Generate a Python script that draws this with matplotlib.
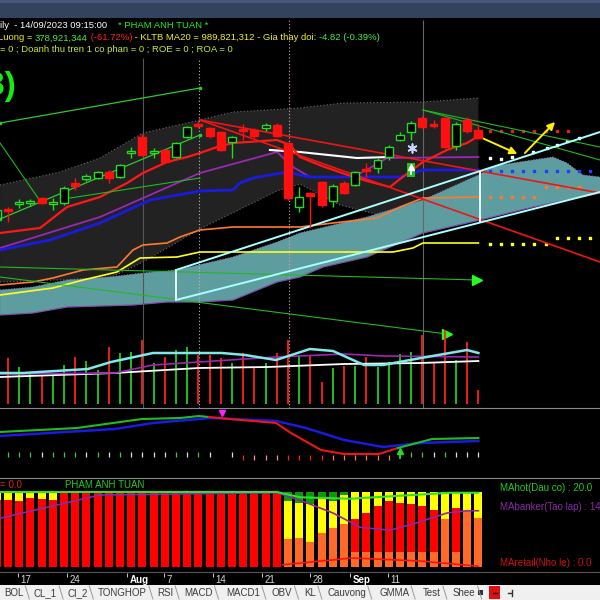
import numpy as np
import matplotlib
matplotlib.use("Agg")
import matplotlib.pyplot as plt
from matplotlib.lines import Line2D

plt.rcParams['font.family'] = ['Liberation Sans', 'DejaVu Sans']

W, H = 600, 600
XLIM = (0.286, 53.86)   # bar index range shown (bar 0 = 13/07, partly off screen)

# ---------------- price candles ----------------
op = [1147,1156,1161,1162,1167,1161,1162,1182,1186,1187,1193,1188,1212,1228,1212,1215,1208,1228,1241,1237,1233,1223,
      1236,1235,1237,1240,1222,1158,1172,1183,1164,1182,1180,1196,1197,1208,1225,1233,1247,1241,1247,1219,1245,1235]
cl = [1155,1154,1163,1164,1162,1163,1177,1179,1189,1193,1187,1200,1214,1210,1214,1203,1222,1238,1239,1229,1215,1228,
      1234,1229,1240,1229,1167,1168,1169,1160,1179,1172,1193,1194,1205,1218,1230,1242,1238,1239,1218,1241,1234,1227]
hi = [1156,1158,1166,1166,1168,1167,1179,1187,1191,1194,1195,1201,1218,1231,1217,1216,1223,1239,1244,1238,1234,1229,
      1241,1237,1242,1242,1223,1178,1173,1184,1181,1184,1194,1202,1207,1220,1233,1244,1249,1245,1248,1243,1248,1241]
lo = [1146,1143,1157,1159,1161,1155,1160,1175,1184,1186,1182,1187,1207,1209,1207,1202,1207,1227,1237,1227,1214,1207,
      1225,1227,1234,1228,1165,1153,1137,1158,1158,1171,1179,1188,1192,1205,1224,1225,1237,1237,1217,1215,1232,1226]
vol = [1100,1242,999,837,783,783,1053,1269,1161,918,1539,1377,1404,1728,1107,1269,1458,1539,1323,1323,1242,1107,
       1377,972,1107,1377,1728,1323,1323,594,972,1026,1026,1269,999,1134,1350,1404,1863,1134,1998,1188,1674,378]

# ---------------- indicator lines (bar index, value) ----------------
red_ma_x = [0.29,3.86,6.27,9.21,11.63,13.05,15.2,17.0,18.14,19.66,21.09,25.02,26.18,27.07,29.04,31.09,33.05,35.11,36.0,38.05,40.2,41.98,43]
red_ma = [1132,1137,1158,1168,1182,1192,1203,1208,1212,1218,1222,1225,1220,1208,1199,1191,1184,1178,1186,1203,1215,1222,1229]
purple_x = [0.29,9.21,18.14,25.02,26.45,27.96,31.8,33.32,34.84,43]
purple = [1117,1148,1192,1213,1198,1188,1188,1197,1207,1208]
blue_x = [0.29,4.75,9.21,13.68,18.14,21.09,21.71,22.88,25.91,27.07,27.96,31.8,36.0,38.05,43]
blue = [1115,1125,1142,1165,1174,1175,1182,1187,1193,1190,1188,1188,1188,1195,1195]
white_x = [24.39,27.07,32.16,35.11]
white = [1215,1213,1207,1208]
orange_x = [0.29,3.23,5.0,7.7,10.73,12.16,13.05,15.2,16.36,18.14,21.09,27.07,30.02,33.95,36.0,38.05,43]
orange = [1080,1083,1087,1095,1098,1115,1120,1122,1128,1135,1138,1138,1142,1147,1158,1167,1168]
yellow_x = [0.29,5.0,7.7,10.73,12.79,16.09,18.14,27.07,35.38,37.16,38.05,43]
yellow = [1070,1077,1085,1093,1107,1108,1113,1113,1113,1117,1122,1122]

band_up_x = [0.29,5.64,9.21,13.05,18.14,21.09,27.07,30.91,38.05,43]
band_up = [1180,1193,1207,1232,1245,1253,1257,1262,1263,1267]
band_lo_x = [0.29,10.1,13.05,18.14,25.02,27.07,30.64,34.2,43]
band_lo = [1083,1087,1103,1136,1174,1181,1160,1150,1165]

cloud_up_x = [0.29,3.23,6.27,10.1,13.05,16.09,21.09,25.02,27.07,33.05,38.05,43,43.77,44.93,49.66,50.91,52.34,53.86]
cloud_up = [1075,1078,1085,1088,1092,1095,1108,1123,1132,1148,1165,1190,1195,1200,1208,1202,1190,1188]
cloud_lo_x = [0.29,3.23,6.27,12.16,15.2,18.14,21.09,25.02,27.07,29.13,33.05,38.05,43.14,47.88,53.86]
cloud_lo = [1050,1052,1058,1060,1063,1063,1065,1083,1088,1098,1108,1132,1145,1158,1172]

# trend lines: (x0, y0, x1, y1)
cyan_lines = [(16.0, 1095, 53.86, 1233), (16.0, 1065, 53.86, 1173)]
white_bars = [(16.0, 1065, 1095), (43.14, 1143, 1194)]
red_lines = [(18.14, 1245, 53.86, 1172), (18.14, 1245, 53.86, 1103)]
green_lines = [(0.29, 1222, 3.68, 1167), (6.54, 1167, 18.14, 1187),
               (38.05, 1255, 53.86, 1218), (38.05, 1255, 53.86, 1205)]
green_dotted = [(0.29, 1242, 18.14, 1277), (0.29, 1146, 18.14, 1230)]
green_arrows = [(0.29, 1098, 42.9, 1085), (0.29, 1088, 40.2, 1031)]
yellow_arrows = [(43.14, 1228, 46.71, 1210), (46.98, 1210, 50.02, 1245)]

# projected dots to the right
red_dot_x = [44,45,46,47,48,49,50,51]
red_dot = [1234]*8
white_dot_x = [44,45,46,47.9,49.1,50,50.9,52]
white_dot = [1207,1206,1208,1213,1217,1220,1224,1227]
blue_dot_x = [44,45,46,47,48,49,50,51,52,53]
blue_dot = [1194]*10
orange_dot_x = [44,45,46,47,48,49,50,51,52]
orange_dot = [1168]*5 + [1178]*4
yellow_dot_x = [44,45,46,47,48,49,50,51,52,53]
yellow_dot = [1121]*6 + [1127]*4

vlines_x = [13.05, 18.05, 26.09, 38.05]

# ---------------- volume averages ----------------
vcyan_x = [0.29,2.34,8.14,10.2,13.95,20.1,22.16,24.93,27.96,30.02,32.79,34.48,37.875,41.98,43]
vcyan = [837,837,945,1134,1377,1377,1323,1188,1485,1431,1053,1053,1242,1458,1377]
vpurple_x = [0.29,10.55,13.95,18.05,24.93,31.0,34.48,43]
vpurple = [810,837,1053,1134,1269,1350,1296,1269]
vwhite_x = [0.29,10.55,18.05,24.21,31.0,37.875,43]
vwhite = [729,837,972,999,1080,1107,1161]

# ---------------- oscillator panel ----------------
osc_x = [0.29,7.16,12.96,16.36,18.05,18.95,20.82,24.93,26.27,28.95,31.0,34.13,35.82,38.86,43]
osc = [28,32,41,42,44,43,41,37,27,10,6,6,12,21,22]
sig_x = [0.29,10.55,13.95,19.04,24.93,27.61,31.0,34.48,37.875,43]
sig = [24,31,37,42,39,32,20,13,17,19]
tick_codes = "ggggwgggwgwgwwwwgwgwnwrppprrrroooooo" + "aggwgwww"

# ---------------- money flow panel (%) ----------------
st_green = [0]*26 + [12,14,16,8,12,4] + [0]*12
st_yellow = [10,10,12,8,9,10] + [0]*20 + [51,47,51,47,36,39,36,28,19,12,14,16,19,24,36,21,25,34]
st_red = [90,90,88,92,91,90] + [100]*20 + [0,0,0,0,0,0,44,52,61,68,66,64,61,56,0,59,0,0]
st_orange = [0]*26 + [37,39,33,45,52,57,20,20,20,20,20,20,20,20,64,20,75,66]
hot_x = [0.29,25.02,26.18,27.07,31.54,36.0,40.46,43]
hot = [100,100,96,93,91,95,99,99]
banker_x = [0.29,9.21,25.02,27.07,30.02,32.43,35.11,37.52,40.2,41.98,43]
banker = [65,96,99,89,72,53,49,59,72,75,75]
retail_x = [25.55,31.71,37.79,43]
retail = [3,12,8,1]

date_pos = [1.89, 6.27, 11.63, 14.93, 19.3, 23.68, 27.96, 31.54, 34.93]
date_lab = ['17', '24', 'Aug', '7', '14', '21', '28', 'Sep', '11']
tabs = ['BOL', 'CL_1', 'CI_2', 'TONGHOP', 'RSI', 'MACD', 'MACD1', 'OBV', 'KL', 'Cauvong', 'GMMA', 'Test', 'Shee']
tab_px = [4, 34, 67, 98, 157, 184, 226, 272, 304, 327, 379, 423, 453]

GREEN = '#22dd22'
RED = '#ff1010'


def rect(x0, y0, x1, y1):
    return [x0 / W, 1 - y1 / H, (x1 - x0) / W, (y1 - y0) / H]


def hline(y, color='#8a8a8a'):
    fig.add_artist(Line2D([0, 1], [1 - y / H, 1 - y / H], color=color, lw=0.8))


fig = plt.figure(figsize=(6, 6), dpi=100, facecolor='black')
r = fig.canvas.get_renderer()

# title strip
axh = fig.add_axes(rect(0, 0, 600, 18))
axh.axis('off')
axh.add_patch(plt.Rectangle((0, 0), 1, 1, transform=axh.transAxes, fc='#33435e', ec='none'))
axh.add_patch(plt.Rectangle((0, 0.82), 1, 0.18, transform=axh.transAxes, fc='#46577a', ec='none'))


def width(s, size):
    a = fig.text(0, 0, '|' + s + '|', fontsize=size)
    b = fig.text(0, 0, '||', fontsize=size)
    w = a.get_window_extent(r).width - b.get_window_extent(r).width
    a.remove(); b.remove()
    return w


def chain(x, y, parts, size=6.8):
    for s, c in parts:
        fig.text(x / W, 1 - y / H, s, color=c, fontsize=size, va='center', ha='left')
        x += width(s, size)


chain(0, 26, [("ily  - 14/09/2023 09:15:00", 'white')])
chain(118, 26, [("* PHAM ANH TUAN *", '#22ee22')])
chain(-2, 38, [("Luong = ", '#e8e820'), ("378,921,344", '#44ee44'), (" (-61.72%)", '#ff2020'),
               (" - KLTB MA20 = 989,821,312 - Gia thay doi: ", '#f0f020'), ("-4.82 (-0.39%)", '#44ee44')])
chain(0, 49, [("= 0 ; Doanh thu tren 1 co phan = 0 ; ROE = 0 ; ROA = 0", '#c8e830')])

# ---------------- main price panel ----------------
ax = fig.add_axes(rect(0, 20, 600, 408))
ax.set_xlim(*XLIM)
ax.set_ylim(957, 1345)
ax.axis('off')

band = list(zip(band_up_x, band_up)) + list(zip(band_lo_x[::-1], band_lo[::-1]))
ax.add_patch(plt.Polygon(band, fc='#222222', ec='none', zorder=1))
ax.plot(band_up_x, band_up, color='#6a6a6a', lw=0.8, ls=(0, (1, 2)), zorder=1.2)
ax.plot(band_lo_x, band_lo, color='#6a6a6a', lw=0.8, ls=(0, (1, 2)), zorder=1.2)

cloud = list(zip(cloud_up_x, cloud_up)) + list(zip(cloud_lo_x[::-1], cloud_lo[::-1]))
ax.add_patch(plt.Polygon(cloud, fc='#5e9d9f', ec='none', zorder=1.5))
ax.plot(cloud_up_x, cloud_up, color='#8a7aa8', lw=0.8, ls=(0, (1, 1.5)), zorder=1.6)
ax.plot(cloud_lo_x, cloud_lo, color='#8050a8', lw=0.9, zorder=1.6)

ax.vlines(vlines_x[0], 957, 1307, color='#555555', lw=0.8, zorder=1.8)
ax.vlines(vlines_x[1], 957, 1307, color='#bbbbbb', lw=0.8, ls=(0, (1, 2)), zorder=1.8)
ax.vlines(vlines_x[2], 957, 1345, color='#d8a8a8', lw=0.8, ls=(0, (1, 2)), zorder=1.8)
ax.vlines(vlines_x[3], 957, 1345, color='#666666', lw=0.8, zorder=1.8)

ax.plot(yellow_x, yellow, color='#ffff20', lw=1.2, zorder=3)
ax.plot(orange_x, orange, color='#ff7a30', lw=1.2, zorder=3)
ax.plot(purple_x, purple, color='#9a28b0', lw=1.3, zorder=3)
ax.plot(blue_x, blue, color='#1a1ae0', lw=2.0, zorder=3)
ax.plot(white_x, white, color='white', lw=1.5, zorder=3)
ax.plot(red_ma_x, red_ma, color='#ff1818', lw=1.6, zorder=3.2)

for x0, y0, x1, y1 in cyan_lines:
    ax.plot([x0, x1], [y0, y1], color='#aaffff', lw=1.4, zorder=3.5)
for xv, y0, y1 in white_bars:
    ax.vlines(xv, y0, y1, color='#e8ffff', lw=1.4, zorder=3.5)
for x0, y0, x1, y1 in red_lines:
    ax.plot([x0, x1], [y0, y1], color='#ee1515', lw=1.2, zorder=3.4)
for x0, y0, x1, y1 in green_lines:
    ax.plot([x0, x1], [y0, y1], color='#22b822', lw=0.8, zorder=3.3)
for x0, y0, x1, y1 in green_dotted:
    ax.plot([x0, x1], [y0, y1], color='#30c830', lw=0.9, zorder=3.3,
            marker='s', markersize=1.6, markevery=0.05)
for x0, y0, x1, y1 in green_arrows:
    ax.plot([x0, x1], [y0, y1], color='#22b822', lw=0.8, zorder=3.3)
    ax.plot(x1, y1, marker='>', color='#22ff22', markersize=7, zorder=3.3)
for x0, y0, x1, y1 in yellow_arrows:
    ax.annotate('', xy=(x1, y1), xytext=(x0, y0),
                arrowprops=dict(arrowstyle='-|>', color='#ffee00', lw=1.4, mutation_scale=11), zorder=4)

ax.scatter(red_dot_x, red_dot, s=3, marker='s', color='#e02020', zorder=3)
ax.scatter(white_dot_x, white_dot, s=3, marker='s', color='white', zorder=3)
ax.scatter(blue_dot_x, blue_dot, s=3, marker='s', color='#2040ff', zorder=3)
ax.scatter(orange_dot_x, orange_dot, s=3, marker='s', color='#ff7a30', zorder=3)
ax.scatter(yellow_dot_x, yellow_dot, s=3, marker='s', color='#ffff20', zorder=3)

# candles
xi = np.arange(len(op))
up = np.array(cl) >= np.array(op)
ccol = [GREEN if u else RED for u in up]
ax.vlines(xi, lo, hi, colors=ccol, lw=1.0, zorder=5)
body_lo = np.minimum(op, cl)
body_h = np.maximum(np.abs(np.array(cl) - np.array(op)), 0.8)
ax.bar(xi, body_h, bottom=body_lo, width=0.7, color=['black' if u else RED for u in up],
       edgecolor=ccol, linewidth=1.0, zorder=6)

# signals
ax.scatter([37.07], [1217], marker=(6, 2, 0), s=40, color='#c8d8ff', lw=1.2, zorder=7)
ax.bar([37.0], [14], bottom=1188, width=0.7, color='#20c020', zorder=7)
ax.plot([37.0], [1198], marker='^', color='white', markersize=4, zorder=8)
ax.vlines(37.0, 1190, 1197, color='white', lw=1.2, zorder=8)

fig.text(16 / W, 1 - 86 / H, '(3)', color='#10ee10', fontsize=24, fontweight='bold',
         ha='right', va='center')

# ---------------- volume ----------------
axv = fig.add_axes(rect(0, 320, 600, 404))
axv.set_xlim(*XLIM)
axv.set_ylim(0, 84 * 27)
axv.axis('off')
axv.vlines(xi, 0, vol, colors=['#22cc22' if u else '#ff2020' for u in up], lw=1.3)
axv.plot(vwhite_x, vwhite, color='white', lw=1.3)
axv.plot(vpurple_x, vpurple, color='#9a28b0', lw=1.2)
axv.plot(vcyan_x, vcyan, color='#80e8e8', lw=1.8)

hline(408)

# ---------------- oscillator ----------------
axm = fig.add_axes(rect(0, 408, 600, 478))
axm.set_xlim(*XLIM)
axm.set_ylim(-18, 52)
axm.axis('off')
axm.plot(sig_x, sig, color='#1a1ae0', lw=1.8)
axm.plot(osc_x[:6], osc[:6], color='#22bb22', lw=1.5)
axm.plot(osc_x[5:13], osc[5:13], color='#ee1515', lw=1.5)
axm.plot(osc_x[12:], osc[12:], color='#22bb22', lw=1.5)
tick_col = {'g': '#50c050', 'w': '#e0e0e0', 'r': '#ff2020', 'p': '#ff9090', 'o': '#ff8040'}
for i, c in enumerate(tick_codes):
    if c in 'gw':
        axm.vlines(i, 3, 8, color=tick_col[c], lw=0.9)
    elif c in 'rpo':
        axm.vlines(i, 0, 5, color=tick_col[c], lw=0.9)
    elif c == 'a':
        axm.vlines(i, 1, 8, color='#22dd22', lw=1.3)
        axm.plot(i, 9, marker='^', color='#22dd22', markersize=4)
axm.plot(20.1, 47.5, marker='v', color='#ff20ff', markersize=5)

hline(478)

# ---------------- money flow ----------------
axb = fig.add_axes(rect(0, 478, 600, 572))
axb.set_xlim(*XLIM)
axb.set_ylim(-6.67, 118.67)
axb.axis('off')
bottom = np.zeros(len(xi))
for vals, col in [(st_orange, '#ff6a28'), (st_red, '#ff0000'), (st_yellow, '#ffff00'), (st_green, '#0a9a0a')]:
    axb.bar(xi, vals, bottom=bottom, width=0.72, color=col, linewidth=0)
    bottom += np.array(vals)
axb.plot(banker_x, banker, color='#8a2aa8', lw=1.2)
axb.plot(retail_x, retail, color='#ff1010', lw=1.2)
axb.plot(hot_x, hot, color='#30e030', lw=1.5)

fig.text(0, 1 - 485 / H, '= 0.0', color='#e02020', fontsize=7, va='center')
fig.text(65 / W, 1 - 485 / H, 'PHAM ANH TUAN', color='#22cc22', fontsize=7, va='center')
fig.text(500 / W, 1 - 488 / H, 'MAhot(Dau co) : 20.0', color='#22cc22', fontsize=7, va='center')
fig.text(500 / W, 1 - 507 / H, 'MAbanker(Tao lap) : 14.0', color='#8a2aa8', fontsize=7, va='center')
fig.text(500 / W, 1 - 563 / H, 'MAretail(Nho le) : 0.0', color='#d01010', fontsize=7, va='center')

hline(572, '#555555')

# ---------------- date axis ----------------
axd = fig.add_axes(rect(0, 572, 600, 585))
axd.set_xlim(*XLIM)
axd.set_ylim(0, 1)
axd.axis('off')
for p, s in zip(date_pos, date_lab):
    bold = s.isalpha()
    axd.vlines(p, 0.6, 0.95, color='#cccccc', lw=0.7)
    axd.text(p + 0.25, 0.42, s, color='white' if bold else '#d8d8d8', fontsize=7,
             fontweight='bold' if bold else 'normal', va='center', ha='left')

# ---------------- sheet tabs ----------------
axt = fig.add_axes(rect(0, 585, 600, 600))
axt.set_xlim(0, 600)
axt.set_ylim(15, 0)
axt.axis('off')
axt.add_patch(plt.Rectangle((0, 0), 600, 15, fc='#f0f0f0', ec='none'))
for px, s in zip(tab_px, tabs):
    axt.text(px, 8, s, color='#3a3a3a', fontsize=7, va='center', ha='left')
    w = width(s, 7)
    axt.plot([px + w + 2, px + w + 6], [1, 14], color='#9a9a9a', lw=0.7)
axt.add_patch(plt.Rectangle((478, 5), 5, 5, fc='#303030', ec='none'))
axt.add_patch(plt.Rectangle((489, 1), 11, 13, fc='#e01010', ec='none'))
axt.plot([493, 497], [8, 8], color='black', lw=1)
axt.plot([508, 511], [8, 8], color='#303030', lw=1)
axt.plot([512, 512], [5, 11], color='#303030', lw=1)

fig.savefig('out.png', dpi=100, facecolor='black')
